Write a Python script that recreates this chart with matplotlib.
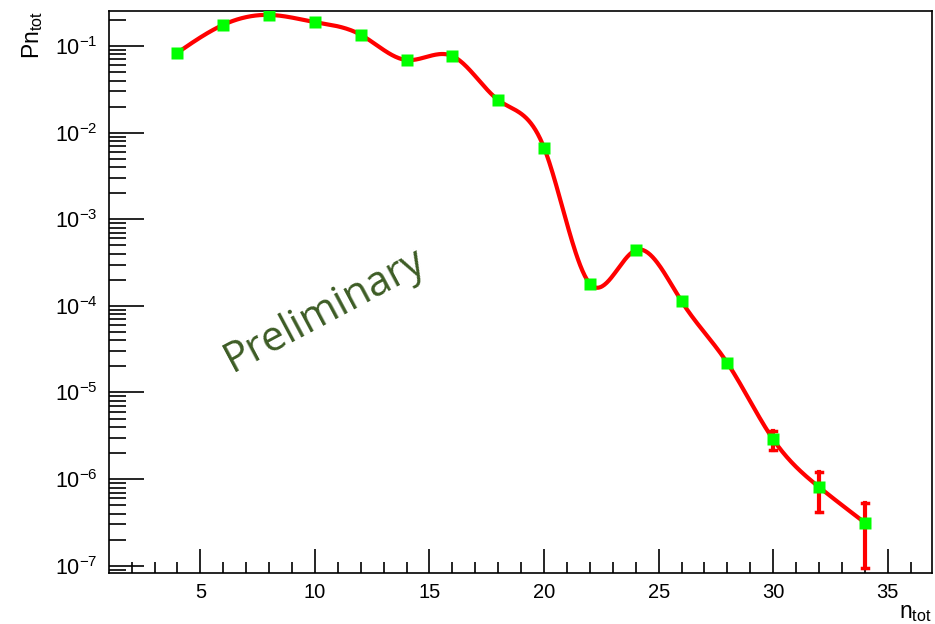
import numpy as np
import matplotlib
matplotlib.use("Agg")
import matplotlib.pyplot as plt
from matplotlib.ticker import FixedLocator, LogLocator, NullFormatter, FuncFormatter

plt.rcParams['font.family'] = ['Liberation Sans', 'DejaVu Sans']
plt.rcParams['mathtext.fontset'] = 'custom'
plt.rcParams['mathtext.rm'] = 'Liberation Sans'
plt.rcParams['mathtext.it'] = 'Liberation Sans'

# multiplicity distribution
n_tot = [4, 6, 8, 10, 12, 14, 16, 18, 20, 22, 24, 26, 28, 30, 32, 34]
pn_tot = [0.0837, 0.176, 0.229, 0.189, 0.135, 0.0690, 0.0767, 0.0238, 0.0067,
          1.80e-4, 4.4e-4, 1.13e-4, 2.19e-5, 2.87e-6, 8.1e-7, 3.14e-7]
pn_err = [0, 0, 0, 0, 0, 0, 0, 0, 0,
          0, 0, 0, 0, 0.72e-6, 3.9e-7, 2.2e-7]


def natural_spline(x, y, xs):
    # natural cubic spline through (x, y), evaluated at xs
    x = np.asarray(x, float)
    y = np.asarray(y, float)
    n = len(x)
    h = np.diff(x)
    A = np.zeros((n, n))
    b = np.zeros(n)
    A[0, 0] = A[-1, -1] = 1
    for i in range(1, n - 1):
        A[i, i - 1] = h[i - 1]
        A[i, i] = 2 * (h[i - 1] + h[i])
        A[i, i + 1] = h[i]
        b[i] = 6 * ((y[i + 1] - y[i]) / h[i] - (y[i] - y[i - 1]) / h[i - 1])
    M = np.linalg.solve(A, b)
    idx = np.clip(np.searchsorted(x, xs) - 1, 0, n - 2)
    x0, x1 = x[idx], x[idx + 1]
    hh = x1 - x0
    t0 = x1 - xs
    t1 = xs - x0
    return (M[idx] * t0**3 / (6 * hh) + M[idx + 1] * t1**3 / (6 * hh)
            + (y[idx] / hh - M[idx] * hh / 6) * t0
            + (y[idx + 1] / hh - M[idx + 1] * hh / 6) * t1)


fig = plt.figure(figsize=(9.35, 6.24), dpi=100)
fig.subplots_adjust(left=108.7 / 935, right=932 / 935,
                    top=1 - 10.7 / 624, bottom=1 - 573 / 624)
ax = fig.add_subplot(111)

xs = np.linspace(n_tot[0], n_tot[-1], 600)
ys = 10 ** natural_spline(n_tot, np.log10(pn_tot), xs)
ax.plot(xs, ys, color='#ff0000', lw=3, zorder=2)

lo = np.array(pn_tot) - np.array(pn_err)
lo = np.where(lo <= 0, 1e-9, lo)
hi = np.array(pn_tot) + np.array(pn_err)
for x, l, h, e in zip(n_tot, lo, hi, pn_err):
    if e > 0:
        ax.plot([x, x], [l, h], color='#ff0000', lw=3, zorder=2)
        ax.plot([x - 0.12, x + 0.12], [l, l], color='#ff0000', lw=2.5, zorder=2)
        ax.plot([x - 0.12, x + 0.12], [h, h], color='#ff0000', lw=2.5, zorder=2)

ax.plot(n_tot, pn_tot, 's', color='#00ff00', ms=9, mec='none', zorder=3)

ax.set_yscale('log')
ax.set_xlim(1.0, 36.93)
ax.set_ylim(8.24e-8, 0.256)

ax.xaxis.set_major_locator(FixedLocator([5, 10, 15, 20, 25, 30, 35]))
ax.xaxis.set_minor_locator(FixedLocator(np.arange(2, 37, 1)))
ax.yaxis.set_major_locator(FixedLocator([1e-7, 1e-6, 1e-5, 1e-4, 1e-3, 1e-2, 1e-1]))
ax.yaxis.set_minor_locator(LogLocator(base=10, subs=np.arange(2, 10), numticks=20))
ax.yaxis.set_minor_formatter(NullFormatter())
ax.yaxis.set_major_formatter(
    FuncFormatter(lambda v, p: r'$10^{%d}$' % int(round(np.log10(v)))))

ax.tick_params(axis='both', which='both', direction='in', width=1.2,
               colors='black', top=False, right=False)
ax.tick_params(axis='y', which='major', length=25, pad=8, labelsize=15.5)
ax.tick_params(axis='y', which='minor', length=12)
ax.tick_params(axis='x', which='major', length=17, pad=7, labelsize=14.5)
ax.tick_params(axis='x', which='minor', length=8)
for s in ax.spines.values():
    s.set_linewidth(1.2)

ax.text(-64 / 823.3, 1.0, r'Pn$_{\mathregular{tot}}$', transform=ax.transAxes,
        rotation=90, ha='right', va='top', fontsize=16.5)
ax.text(1.0, -0.05, r'n$_{\mathregular{tot}}$', transform=ax.transAxes,
        ha='right', va='top', fontsize=16.5)

ax.text(6.4, 1.7e-5, 'Preliminary', rotation=28, color='#3d5c25',
        fontsize=30, family=['Open Sans', 'DejaVu Sans'],
        ha='left', va='baseline', rotation_mode='anchor')

fig.savefig('out.png', dpi=100)
